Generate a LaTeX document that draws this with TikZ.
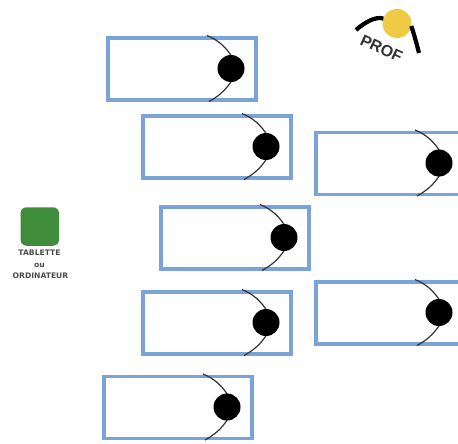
\documentclass[tikz,border=0pt]{standalone}
\usepackage{fontspec}
\setmainfont{Liberation Sans}
\newfontfamily\widelabel{DejaVu Sans}
\usetikzlibrary{calc}
\definecolor{deskblue}{HTML}{7AA3D8}
\definecolor{tabgreen}{HTML}{3F8C3A}
\definecolor{profyellow}{HTML}{EFCB45}
\definecolor{chairline}{HTML}{333333}
\tikzset{
  x=1pt,y=-1pt,
  deskbox/.style={draw=deskblue,line width=3.1pt,fill=white,minimum width=148pt,minimum height=62pt,inner sep=0pt,outer sep=0pt},
  pupil/.style={circle,fill=black,minimum size=27pt,inner sep=0pt,outer sep=0pt},
  chair/.style={draw=chairline,line width=1.2pt},
  profarm/.style={draw=black,line width=4.2pt},
  smalllabel/.style={font=\widelabel\bfseries\fontsize{7.6}{8}\selectfont,text=black!70,inner sep=0pt},
}
\newcommand{\seatrow}[3]{%
  \node[deskbox] (d#1) at (#2,#3) {};
  \coordinate (pc#1) at ($(d#1.east)+(-25,-0.5)$);
  \coordinate (ct#1) at ($(pc#1)+(-24,-33)$);
  \coordinate (cb#1) at ($(pc#1)+(-22,33)$);
  \draw[chair] (ct#1) .. controls ($(pc#1)+(-14,-29)$) and ($(pc#1)+(-5,-22)$) .. ($(pc#1)+(2,-10)$);
  \draw[chair] (cb#1) .. controls ($(pc#1)+(-13,28)$) and ($(pc#1)+(-5,22)$) .. ($(pc#1)+(2,10)$);
  \node[pupil] (p#1) at (pc#1) {};
}
\begin{document}
\begin{tikzpicture}
\useasboundingbox[fill=white] (0,0) rectangle (458,444);
\clip (0,0) rectangle (458,444);
\seatrow{a}{182}{69}
\seatrow{b}{217}{147}
\seatrow{c}{235}{238}
\seatrow{d}{217}{323}
\seatrow{e}{178}{407.5}
\seatrow{f}{390}{163.5}
\seatrow{g}{390}{313}
% teacher
\coordinate (al) at (356,30);
\coordinate (ar) at (419,53);
\node[circle,fill=profyellow,minimum size=29pt,inner sep=0pt,outer sep=0pt] (prof) at (397,23.5) {};
\draw[profarm] (al) .. controls (364,23) and (375,16) .. (prof.160);
\draw[profarm] (prof.-10) .. controls (413,31) and (416,41) .. (ar);
\node[rotate=-25,inner sep=0pt,font=\bfseries\fontsize{16}{18}\selectfont,text=black!80] (proflabel) at (381.5,48.5) {PROF};
% tablet
\node[draw=none,fill=tabgreen,rounded corners=6pt,minimum size=38.5pt,inner sep=0pt] (tablet) at (39.8,226.5) {};
\node[smalllabel] (t1) at (39.5,253) {TABLETTE};
\node[smalllabel] (t2) at (39.5,265) {ou};
\node[smalllabel] (t3) at (40.5,276) {ORDINATEUR};
\end{tikzpicture}
\end{document}
